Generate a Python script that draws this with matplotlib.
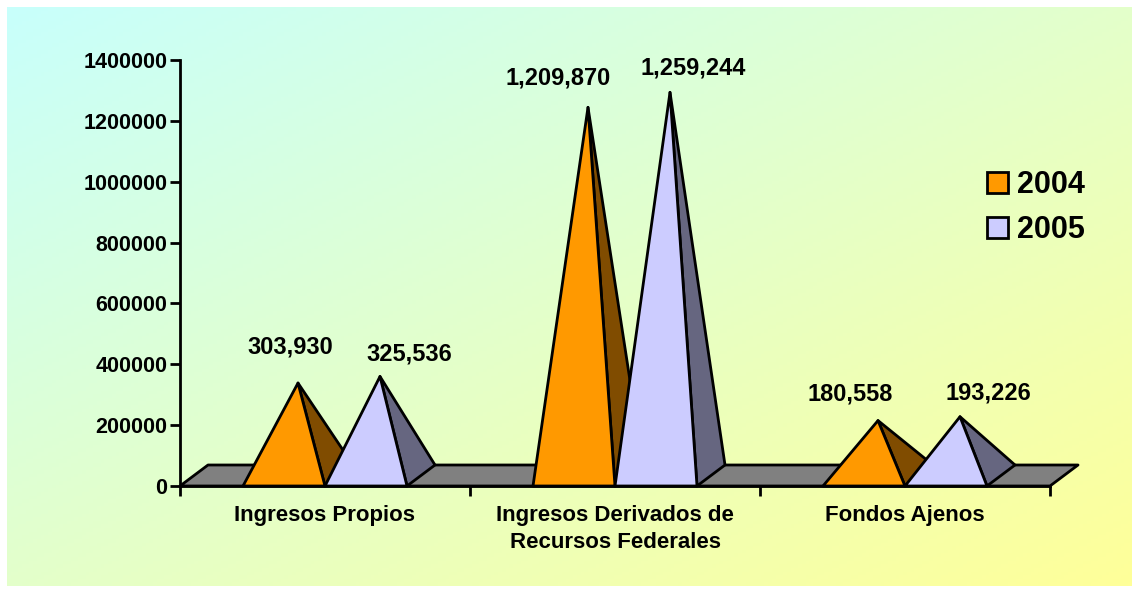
import numpy as np
import matplotlib
matplotlib.use('agg')
import matplotlib.pyplot as plt
from matplotlib.patches import Polygon, Patch

plt.rcParams['font.family'] = ['Liberation Sans', 'DejaVu Sans']
plt.rcParams['font.weight'] = 'bold'

# data
categories = ['Ingresos Propios', 'Ingresos Derivados de\nRecursos Federales', 'Fondos Ajenos']
years = ['2004', '2005']
v2004 = [303930, 1209870, 180558]
v2005 = [325536, 1259244, 193226]
yticks = [0, 200000, 400000, 600000, 800000, 1000000, 1200000, 1400000]

# label offsets from the apex (pixels: right, up)
label_off = [[(-8, 30), (29, 16)],
             [(-30, 23), (23, 18)],
             [(-28, 20), (28, 17)]]

W, H = 1132, 589
fig = plt.figure(figsize=(W / 100, H / 100), dpi=100)

# gradient background
bg = fig.add_axes([0, 0, 1, 1])
bg.set_xlim(0, W)
bg.set_ylim(H, 0)
bg.axis('off')
gx, gy = np.meshgrid(np.linspace(0, 1, 300), np.linspace(0, 1, 160))
t = ((gx + gy) / 2)[..., None]
c0 = np.array([200, 255, 252]) / 255
c1 = np.array([255, 255, 153]) / 255
bg.imshow(c0 * (1 - t) + c1 * t, extent=[7, W, 586, 7], aspect='auto')

ax = fig.add_axes([180 / W, 1 - 486 / H, 870 / W, 426 / H])
ax.patch.set_alpha(0)
ax.set_xlim(-0.5, 2.5)
ax.set_ylim(0, 1400000)

bw = 82 / 290
dx = 28 / 290
dy = 21 / 426 * 1400000
ek = dict(edgecolor='black', linewidth=2, joinstyle='round', clip_on=False)

# floor
ax.add_patch(Polygon([(-0.5, 0), (2.5, 0), (2.5 + dx, dy), (-0.5 + dx, dy)],
                     facecolor='#808080', zorder=1, **ek))

front = ['#FF9900', '#CCCCFF']
side = ['#804C00', '#666680']
series = [v2004, v2005]
z = 2
for i in range(len(categories)):
    for j, vals in enumerate(series):
        x0 = i - bw + j * bw
        x1 = x0 + bw
        v = vals[i]
        apex = ((x0 + x1) / 2 + dx / 2, v + dy / 2)
        ax.add_patch(Polygon([(x1, 0), (x1 + dx, dy), apex], facecolor=side[j], zorder=z, **ek))
        ax.add_patch(Polygon([(x0, 0), (x1, 0), apex], facecolor=front[j], zorder=z + 1, **ek))
        z += 2
        ox, oy = label_off[i][j]
        ax.annotate(f'{v:,}', xy=apex, xytext=(ox * 0.72, oy * 0.72), textcoords='offset points',
                    ha='center', va='baseline', fontsize=17, fontweight='bold')

for s in ['top', 'right']:
    ax.spines[s].set_visible(False)
for s in ['left', 'bottom']:
    ax.spines[s].set_linewidth(2)
    ax.spines[s].set_zorder(20)

ax.set_yticks(yticks)
ax.set_yticklabels([str(v) for v in yticks], fontsize=15.5, fontweight='bold')
ax.tick_params(axis='y', length=7, width=2, pad=2)
ax.set_xticks([-0.5, 0.5, 1.5, 2.5])
ax.set_xticklabels([])
ax.tick_params(axis='x', which='major', length=7, width=2)
ax.set_xticks([0, 1, 2], minor=True)
ax.set_xticklabels(categories, minor=True, fontsize=16, fontweight='bold', va='top',
                   linespacing=1.35)
ax.tick_params(axis='x', which='minor', length=0, pad=14)

handles = [Patch(facecolor=front[k], edgecolor='black', linewidth=2) for k in range(2)]
fig.legend(handles, years, loc='upper left', bbox_to_anchor=(987 / W, 1 - 170 / H),
           frameon=False, prop={'size': 22, 'weight': 'bold'},
           handlelength=0.68, handleheight=0.68, handletextpad=0.3, labelspacing=0.5,
           borderpad=0, borderaxespad=0)

fig.savefig('out.png', dpi=100)
